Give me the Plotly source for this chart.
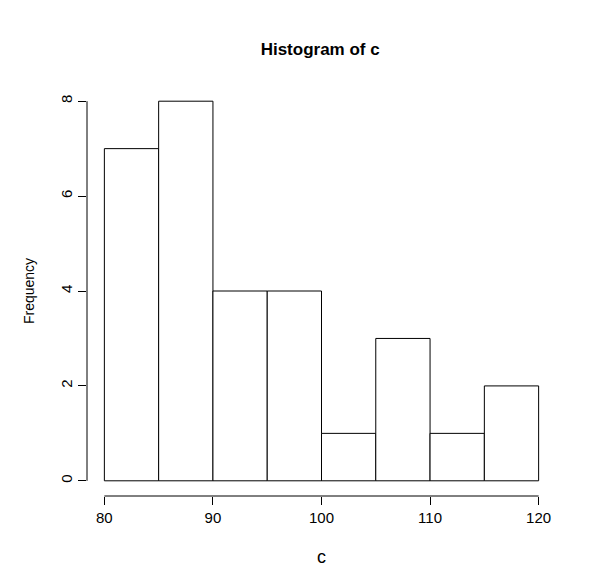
import plotly.graph_objects as go

bin_edges = [80, 85, 90, 95, 100, 105, 110, 115, 120]
counts = [7, 8, 4, 4, 1, 3, 1, 2]

centers = [(a + b) / 2 for a, b in zip(bin_edges[:-1], bin_edges[1:])]
widths = [b - a for a, b in zip(bin_edges[:-1], bin_edges[1:])]

fig = go.Figure(go.Bar(
    x=centers, y=counts, width=widths,
    marker=dict(color="white", line=dict(color="black", width=1)),
))

font = dict(family="Liberation Sans, Arial", size=15, color="black")
fig.update_layout(
    width=589, height=588,
    margin=dict(l=79, r=41, t=78, b=100, autoexpand=False),
    plot_bgcolor="white", paper_bgcolor="white",
    font=font, showlegend=False,
    title=dict(text="<b>Histogram of c</b>", x=0.53, xanchor="center",
               y=0.93, yanchor="middle", font=dict(size=17), automargin=False),
    xaxis=dict(range=[78.4, 121.6], tickvals=[80, 90, 100, 110, 120],
               ticks="outside", ticklen=8, tickcolor="black", showgrid=False,
               zeroline=False, showline=False, automargin=False,
               title=dict(text="c", standoff=25)),
    yaxis=dict(range=[-0.32, 8.32], tickvals=[0, 2, 4, 6, 8], tickangle=-90,
               ticks="outside", ticklen=8, tickcolor="black", showgrid=False,
               zeroline=False, showline=False, automargin=False,
               tickfont=dict(size=15),
               title=dict(text="Frequency", standoff=20, font=dict(size=14))),
)
# detached R-style axis lines
fig.add_shape(type="line", xref="x", yref="paper", x0=80, x1=120, y0=0, y1=0,
              line=dict(color="black", width=1))
fig.add_shape(type="line", xref="paper", yref="y", x0=0, x1=0, y0=0, y1=8,
              line=dict(color="black", width=1))

fig.write_html("out.html")
